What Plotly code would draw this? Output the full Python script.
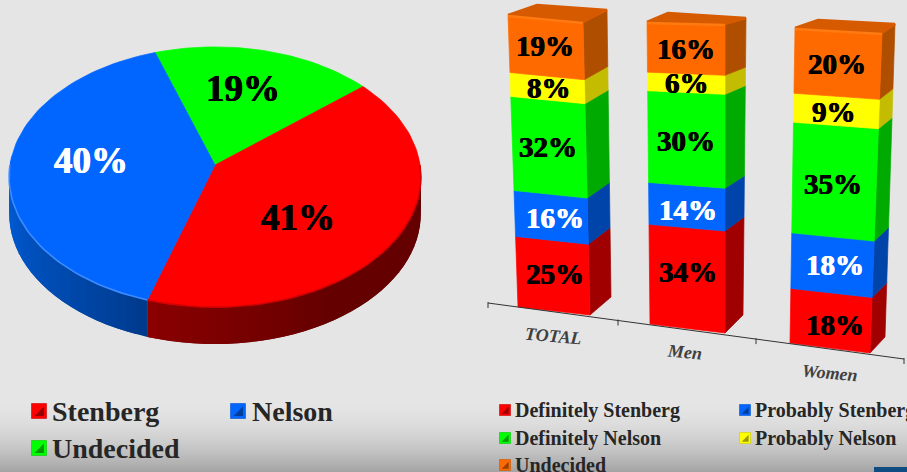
#!/usr/bin/env python3
"""Stenberg / Nelson vote share: tilted 3D style pie plus stacked 3D columns."""

import math
import plotly.graph_objects as go

# data
pie_names = ["Undecided", "Stenberg", "Nelson"]
pie_values = [19, 41, 40]

bar_groups = ["TOTAL", "Men", "Women"]
bar_series = ["Definitely Stenberg", "Probably Stenberg", "Definitely Nelson", "Probably Nelson", "Undecided"]
definitely_stenberg = [25, 34, 18]
probably_stenberg = [16, 14, 18]
definitely_nelson = [32, 30, 35]
probably_nelson = [8, 6, 9]
undecided = [19, 16, 20]

W, H = 907, 472
SERIF = "Liberation Serif"
RED, BLUE, GREEN, YELLOW, ORANGE = "#ff0000", "#0066ff", "#00ff00", "#ffff00", "#ff6a00"
SIDE = {RED: "#a00000", BLUE: "#0044aa", GREEN: "#00aa00", YELLOW: "#c4bc00", ORANGE: "#b04e00"}

fig = go.Figure()


def poly(xs, ys, color, edge=0.7):
    fig.add_trace(go.Scatter(
        x=list(xs) + [xs[0]], y=list(ys) + [ys[0]], mode="lines", fill="toself",
        fillcolor=color, line=dict(color=color, width=edge), hoverinfo="skip", showlegend=False,
    ))


def label(x, y, text, size, color="#000000", anchor="center", angle=0, style="normal", heavy=0.0):
    # a thin same colour shadow thickens the strokes, the original face is heavier than ours
    shadow = f"{heavy}px 0 0 {color}, -{heavy}px 0 0 {color}" if heavy else "none"
    fig.add_annotation(
        x=x, y=y, xref="x", yref="y", text=f"<b>{text}</b>", showarrow=False, xanchor=anchor,
        yanchor="middle", textangle=angle,
        font=dict(family=SERIF, size=size, color=color, style=style, shadow=shadow),
    )


def mix(c1, c2, t):
    a = [int(c1[i:i + 2], 16) for i in (1, 3, 5)]
    b = [int(c2[i:i + 2], 16) for i in (1, 3, 5)]
    return "#" + "".join(f"{round(p + (q - p) * t):02x}" for p, q in zip(a, b))


# background, light grey fading darker along the bottom edge
bg_shapes = []
for row in range(400, H, 2):
    t = ((row - 400) / (H - 400)) ** 1.8
    bg_shapes.append(dict(type="rect", layer="below", xref="x", yref="y", x0=0, x1=W, y0=row, y1=row + 2,
                          fillcolor=mix("#e5e5e5", "#a2a2a2", t), line=dict(width=0)))
bg_shapes.append(dict(type="rect", layer="above", xref="x", yref="y", x0=874, x1=W, y0=467, y1=H,
                      fillcolor="#0f4c81", line=dict(width=0)))

# pie: the circle goes through a small perspective projection
PIE_X, PIE_Y, PIE_A, PIE_B, PIE_K, PIE_DEPTH = 215, 165, 205, 129, 0.0923, 37
PIE_START = -18.5


def pie_point(deg, r=1.0):
    u, v = r * math.sin(math.radians(deg)), r * math.cos(math.radians(deg))
    s = 1 / (1 + PIE_K * v)
    return PIE_X + PIE_A * u * s, PIE_Y - PIE_B * v * s


pie_colors = {"Undecided": GREEN, "Stenberg": RED, "Nelson": BLUE}
slices = []
angle = PIE_START
for name, value in zip(pie_names, pie_values):
    sweep = value / sum(pie_values) * 360
    slices.append((name, angle, angle + sweep))
    angle += sweep

# rim first, only the part that faces the viewer. strips overlap so no seams show
for name, a0, a1 in slices:
    color = pie_colors[name]
    lo, hi = max(a0, 86), min(a1, 274)
    if hi <= lo:
        continue
    n = int((hi - lo) / 3) + 1
    for i in range(n):
        d0 = lo + (hi - lo) * i / n
        d1 = min(hi, lo + (hi - lo) * (i + 2) / n)
        x0, y0 = pie_point(d0)
        x1, y1 = pie_point(d1)
        t = (d0 - lo) / (hi - lo)
        if color == RED:
            shade = mix("#640000", "#8c0000", max(0, t - 0.55) / 0.45)
        else:
            shade = mix("#003a8c", "#0060e0", t ** 0.8)
        poly([x0, x1, x1, x0], [y0, y1, y1 + PIE_DEPTH, y0 + PIE_DEPTH], shade, edge=0)

# top face
for name, a0, a1 in slices:
    n = max(int((a1 - a0) / 2), 2)
    pts = [pie_point(a0 + (a1 - a0) * i / n) for i in range(n + 1)]
    xs = [PIE_X] + [p[0] for p in pts]
    ys = [PIE_Y] + [p[1] for p in pts]
    poly(xs, ys, pie_colors[name])

# soft bevel on the front edge of the top face
for name, a0, a1 in slices:
    color = pie_colors[name]
    lo, hi = max(a0, 90), min(a1, 270)
    if hi <= lo:
        continue
    pts = [pie_point(lo + (hi - lo) * i / 40) for i in range(41)]
    fig.add_trace(go.Scatter(
        x=[p[0] for p in pts], y=[p[1] for p in pts], mode="lines",
        line=dict(color="#d40000" if color == RED else "#3d8bff", width=1.6),
        hoverinfo="skip", showlegend=False,
    ))

label(243, 88, f"{pie_values[0]}%", 37, heavy=0.5)
label(298, 217, f"{pie_values[1]}%", 37, heavy=0.5)
label(91, 160, f"{pie_values[2]}%", 37, color="#ffffff", heavy=0.5)

# stacked columns: each value runs up a leaning front face, offsets are the box depth
# bl/br/tl/tr = front face corners, bb/bt = back edge of the side, tb = back-left of the lid
frames = [
    dict(bl=(518, 307), br=(590, 315), tl=(508, 15), tr=(583, 22), bb=(611, 297), bt=(607, 10), tb=(537, 5)),
    dict(bl=(650, 324), br=(725, 333), tl=(647, 22), tr=(725, 24), bb=(743, 315), bt=(746, 18), tb=(668, 13)),
    dict(bl=(790, 343), br=(870, 353), tl=(795, 28), tr=(882, 33), bb=(885, 337), bt=(895, 24), tb=(818, 20)),
]
stack = [definitely_stenberg, probably_stenberg, definitely_nelson, probably_nelson, undecided]
stack_colors = [RED, BLUE, GREEN, YELLOW, ORANGE]
stack_text = ["#000000", "#ffffff", "#000000", "#000000", "#000000"]
# hand placed label offsets, group by series
label_nudge = [
    [(2, -2), (4, 1), (-1, 0), (1, 0), (-1, -1)],
    [(1, -6), (1, 3), (-1, 2), (1, 0), (0, 1)],
    [(4, 5), (3, 0), (-1, 3), (-2, 1), (-1, 1)],
]


def lerp(p, q, t):
    return p[0] + (q[0] - p[0]) * t, p[1] + (q[1] - p[1]) * t


def squeeze(t):
    # the columns recede a little towards the top
    return t - 0.045 * t * (1 - t)


for g, frame in enumerate(frames):
    total = sum(s[g] for s in stack)
    base = 0
    for s, (series, color, text_color) in enumerate(zip(stack, stack_colors, stack_text)):
        t0, t1 = squeeze(base / total), squeeze((base + series[g]) / total)
        base += series[g]
        fl0, fl1 = lerp(frame["bl"], frame["tl"], t0), lerp(frame["bl"], frame["tl"], t1)
        fr0, fr1 = lerp(frame["br"], frame["tr"], t0), lerp(frame["br"], frame["tr"], t1)
        bk0, bk1 = lerp(frame["bb"], frame["bt"], t0), lerp(frame["bb"], frame["bt"], t1)
        poly([fr0[0], bk0[0], bk1[0], fr1[0]], [fr0[1], bk0[1], bk1[1], fr1[1]], SIDE[color])
        poly([fl0[0], fr0[0], fr1[0], fl1[0]], [fl0[1], fr0[1], fr1[1], fl1[1]], color)
        cx = (fl0[0] + fr0[0] + fl1[0] + fr1[0]) / 4 + label_nudge[g][s][0]
        cy = (fl0[1] + fr0[1] + fl1[1] + fr1[1]) / 4 + label_nudge[g][s][1]
        label(cx, cy, f"{series[g]}%", 29, color=text_color, heavy=0.4)
    poly([frame["tl"][0], frame["tr"][0], frame["bt"][0], frame["tb"][0]],
         [frame["tl"][1], frame["tr"][1], frame["bt"][1], frame["tb"][1]], "#d65a00", edge=2.5)
    fig.add_trace(go.Scatter(x=[frame["tl"][0], frame["tr"][0]], y=[frame["tl"][1] + 1, frame["tr"][1] + 1],
                             mode="lines", line=dict(color="#ff7a10", width=2.5),
                             hoverinfo="skip", showlegend=False))

# leaning category axis
axis_start, axis_end = (488, 303), (904, 359)
fig.add_trace(go.Scatter(x=[axis_start[0], axis_end[0]], y=[axis_start[1], axis_end[1]], mode="lines",
                         line=dict(color="#333333", width=1), hoverinfo="skip", showlegend=False))
for t in (0, 130 / 416, 268 / 416, 1):
    tick = lerp(axis_start, axis_end, t)
    fig.add_trace(go.Scatter(x=[tick[0], tick[0]], y=[tick[1] - 1, tick[1] + 5], mode="lines",
                             line=dict(color="#333333", width=1), hoverinfo="skip", showlegend=False))
for name, (x, y) in zip(bar_groups, [(553, 336), (684, 352), (830, 373)]):
    label(x, y, name, 18, color="#404040", angle=5, style="italic")


# legends, bevelled little squares next to real text
def legend_item(x, y, size, color, text, font_size, gap):
    fig.add_trace(go.Scatter(x=[x], y=[y], mode="markers", hoverinfo="skip", showlegend=False,
                             marker=dict(symbol="square", size=size, color=color,
                                         line=dict(color=mix(color, "#000000", 0.2), width=0.6))))
    fig.add_trace(go.Scatter(x=[x + size * 0.12], y=[y + size * 0.12], mode="markers", hoverinfo="skip",
                             showlegend=False,
                             marker=dict(symbol="triangle-se", size=size * 0.7, color=mix(color, "#000000", 0.4),
                                         line=dict(width=0))))
    label(x + size / 2 + gap, y, text, font_size, color="#262626", anchor="left")


legend_item(39, 411, 15, RED, pie_names[1], 28, 3)
legend_item(238, 411, 15, BLUE, pie_names[2], 28, 4)
legend_item(39, 448, 15, GREEN, pie_names[0], 28, 3)

legend_spots = [(505, 410), (745, 410), (505, 438), (745, 438), (505, 465)]
for name, color, (x, y) in zip(bar_series, stack_colors, legend_spots):
    legend_item(x, y, 11, color, name, 20, 2)

fig.update_layout(
    width=W, height=H, margin=dict(l=0, r=0, t=0, b=0), paper_bgcolor="#e5e5e5", plot_bgcolor="#e5e5e5",
    showlegend=False, shapes=bg_shapes,
    xaxis=dict(range=[0, W], visible=False, fixedrange=True),
    yaxis=dict(range=[H, 0], visible=False, fixedrange=True),
)

# the page's default body margin would push the picture 8px in
fig.write_html("out.html", config=dict(displayModeBar=False),
               post_script="document.body.style.margin='0';document.body.style.overflow='hidden';")
